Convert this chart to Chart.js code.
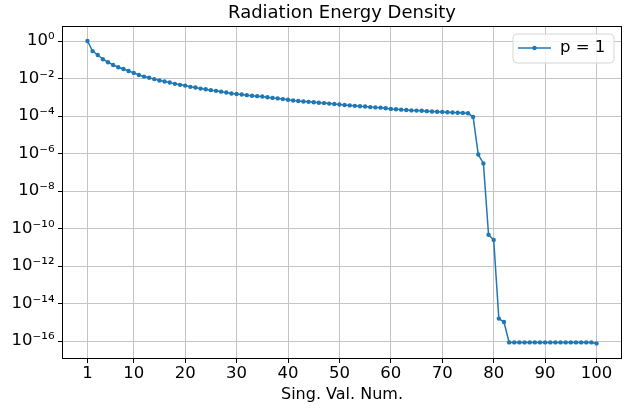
<!DOCTYPE html>
<html>
<head>
<meta charset="utf-8">
<script src="https://cdn.jsdelivr.net/npm/chart.js@4.4.1/dist/chart.umd.min.js"></script>
<style>
  html, body { margin: 0; padding: 0; background: #fff; }
  #wrap { width: 630px; height: 408px; }
</style>
</head>
<body>
<div id="wrap"><canvas id="chart" width="630" height="408"></canvas></div>
<script>
// singular value number on the x axis
const singValNum = Array.from({ length: 100 }, (_, i) => i + 1);

// radiation energy density (p = 1)
const energyDensity = [
	1.0, 0.29, 0.18, 0.107, 0.074, 0.053, 0.040, 0.032, 0.025, 0.020,
	0.0155, 0.0127, 0.0110, 0.0093, 0.0079, 0.0069, 0.0061, 0.0052, 0.0046, 0.0042,
	0.0036, 0.0033, 0.0029, 0.0027, 0.0024, 0.0022, 0.0020, 0.0018, 0.0016, 0.0015,
	0.0014, 0.0013, 0.0012, 0.00115, 0.0011, 0.00100, 0.00093, 0.00087, 0.00080, 0.00074,
	0.00068, 0.00063, 0.00060, 0.00057, 0.00054, 0.00051, 0.00049, 0.00046, 0.00044, 0.00041,
	0.00039, 0.00037, 0.00035, 0.00033, 0.00032, 0.00030, 0.00029, 0.00028, 0.00026, 0.00024,
	0.00023, 0.00022, 0.00021, 0.00020, 0.000195, 0.00019, 0.000183, 0.000176, 0.000170, 0.000166,
	0.000160, 0.000155, 0.000150, 0.000147, 0.000140, 0.000089, 8.9e-7, 3.0e-7, 4.7e-11, 2.5e-11,
	1.6e-15, 1.05e-15, 8.6e-17, 8.6e-17, 8.6e-17, 8.6e-17, 8.6e-17, 8.6e-17, 8.6e-17, 8.6e-17,
	8.6e-17, 8.6e-17, 8.6e-17, 8.6e-17, 8.6e-17, 8.6e-17, 8.6e-17, 8.6e-17, 8.6e-17, 7.6e-17
];

const xTicks = [1, 10, 20, 30, 40, 50, 60, 70, 80, 90, 100];
const yTickExps = [0, -2, -4, -6, -8, -10, -12, -14, -16];

const seriesLabel = "p = 1";
const lineColor = "#1f77b4";
const fontFamily = "'DejaVu Sans', sans-serif";

const sup = { "0": "⁰", "1": "¹", "2": "²", "3": "³", "4": "⁴", "5": "⁵", "6": "⁶", "7": "⁷", "8": "⁸", "9": "⁹", "-": "⁻" };
function powLabel(exp) {
	return "10" + String(exp).split("").map(function (c) { return sup[c]; }).join("");
}

// frame around the plot area and the boxed legend
const framePlugin = {
	id: "frame",
	afterDraw(chart) {
		const ctx = chart.ctx;
		const a = chart.chartArea;
		ctx.save();
		ctx.strokeStyle = "#000";
		ctx.lineWidth = 1;
		ctx.strokeRect(Math.round(a.left) + 0.5, Math.round(a.top) + 0.5,
			Math.round(a.right - a.left) - 1, Math.round(a.bottom - a.top) - 1);

		// legend box
		const bx = 513, by = 34, bw = 101, bh = 29, r = 4;
		ctx.beginPath();
		ctx.moveTo(bx + r, by);
		ctx.arcTo(bx + bw, by, bx + bw, by + bh, r);
		ctx.arcTo(bx + bw, by + bh, bx, by + bh, r);
		ctx.arcTo(bx, by + bh, bx, by, r);
		ctx.arcTo(bx, by, bx + bw, by, r);
		ctx.closePath();
		ctx.fillStyle = "rgba(255,255,255,0.8)";
		ctx.fill();
		ctx.strokeStyle = "#d6d6d6";
		ctx.stroke();

		const ly = 48;
		ctx.strokeStyle = lineColor;
		ctx.lineWidth = 1.5;
		ctx.beginPath();
		ctx.moveTo(518, ly);
		ctx.lineTo(551, ly);
		ctx.stroke();
		ctx.fillStyle = lineColor;
		ctx.beginPath();
		ctx.arc(534.5, ly, 2.2, 0, Math.PI * 2);
		ctx.fill();

		ctx.fillStyle = "#000";
		ctx.font = "16.5px " + fontFamily;
		ctx.textBaseline = "middle";
		ctx.textAlign = "left";
		ctx.fillText(seriesLabel, 560, ly);
		ctx.restore();
	}
};

new Chart(document.getElementById("chart"), {
	type: "line",
	data: {
		datasets: [{
			label: seriesLabel,
			data: singValNum.map(function (x, i) { return { x: x, y: energyDensity[i] }; }),
			borderColor: lineColor,
			backgroundColor: lineColor,
			borderWidth: 1.5,
			pointRadius: 2.2,
			pointBorderWidth: 0,
			pointHoverRadius: 2.2,
			tension: 0,
			fill: false
		}]
	},
	options: {
		responsive: false,
		animation: false,
		devicePixelRatio: 1,
		layout: { padding: { left: 0, right: 8, top: 0, bottom: 0 } },
		plugins: {
			legend: { display: false },
			tooltip: { enabled: false },
			title: {
				display: true,
				fullSize: false, // centre over the plot area like matplotlib
				text: "Radiation Energy Density",
				color: "#000",
				font: { family: fontFamily, size: 18, weight: "normal" },
				padding: { top: 3, bottom: 1.4 }
			}
		},
		scales: {
			x: {
				type: "linear",
				min: -3.95,
				max: 104.95,
				afterBuildTicks(scale) {
					scale.ticks = xTicks.map(function (v) { return { value: v }; });
				},
				afterFit(scale) { scale.height = 49; },
				ticks: {
					color: "#000",
					font: { family: fontFamily, size: 16.5 },
					padding: 1,
					maxRotation: 0,
					autoSkip: false
				},
				grid: { color: "#c4c4c4", lineWidth: 1, tickColor: "#000", tickLength: 4 },
				border: { display: false },
				title: {
					display: true,
					text: "Sing. Val. Num.",
					color: "#000",
					font: { family: fontFamily, size: 16 },
					padding: { top: 4, bottom: 4 }
				}
			},
			y: {
				type: "logarithmic",
				min: Math.pow(10, -16.95),
				max: Math.pow(10, 0.8),
				afterBuildTicks(scale) {
					scale.ticks = yTickExps.map(function (e) { return { value: Math.pow(10, e) }; });
				},
				afterFit(scale) { scale.width = 62; },
				ticks: {
					color: "#000",
					font: { family: fontFamily, size: 16.5 },
					padding: 3.5,
					autoSkip: false,
					callback: function (value) {
						return powLabel(Math.round(Math.log10(value)));
					}
				},
				grid: { color: "#c4c4c4", lineWidth: 1, tickColor: "#000", tickLength: 4 },
				border: { display: false }
			}
		}
	},
	plugins: [framePlugin]
});
</script>
</body>
</html>
